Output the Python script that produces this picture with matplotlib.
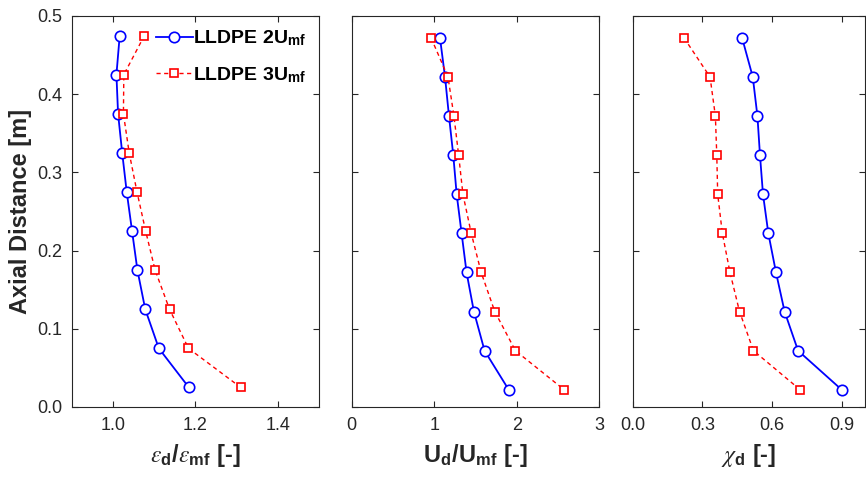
import numpy as np
import matplotlib
matplotlib.use('Agg')
import matplotlib.pyplot as plt

plt.rcParams['font.family'] = ['Liberation Sans', 'DejaVu Sans']
plt.rcParams['mathtext.fontset'] = 'custom'
plt.rcParams['mathtext.rm'] = 'Liberation Sans'
plt.rcParams['mathtext.bf'] = 'Liberation Sans:bold'
plt.rcParams['mathtext.it'] = 'STIXGeneral:italic'
plt.rcParams['mathtext.fallback'] = 'stix'

# axial positions
z1 = [0.475, 0.425, 0.375, 0.325, 0.275, 0.225, 0.175, 0.125, 0.075, 0.025]
z2 = [0.472, 0.422, 0.372, 0.322, 0.272, 0.222, 0.172, 0.122, 0.072, 0.022]

# eps_d / eps_mf
eps_2u = [1.016, 1.008, 1.012, 1.022, 1.033, 1.046, 1.059, 1.078, 1.111, 1.184]
eps_3u = [1.076, 1.026, 1.025, 1.039, 1.058, 1.079, 1.102, 1.137, 1.183, 1.310]

# U_d / U_mf
ud_2u = [1.070, 1.131, 1.179, 1.231, 1.272, 1.332, 1.392, 1.481, 1.610, 1.903]
ud_3u = [0.962, 1.167, 1.239, 1.296, 1.348, 1.449, 1.569, 1.734, 1.984, 2.575]

# chi_d
chi_2u = [0.471, 0.517, 0.537, 0.548, 0.561, 0.584, 0.617, 0.654, 0.712, 0.900]
chi_3u = [0.221, 0.333, 0.356, 0.362, 0.366, 0.386, 0.419, 0.460, 0.520, 0.721]

labels = [r'LLDPE 2U$_\mathbf{mf}$', r'LLDPE 3U$_\mathbf{mf}$']

tc = '#262626'
fig = plt.figure(figsize=(8.66, 4.86), dpi=100)
bot, h = 0.1626, 0.8045
ax1 = fig.add_axes([0.0831, bot, 0.2852, h])
ax2 = fig.add_axes([0.4061, bot, 0.2859, h])
ax3 = fig.add_axes([0.7306, bot, 0.2682, h])


def draw(ax, xb, xr, zb, zr):
	ax.plot(xb, zb, '-o', color='#0000ff', lw=1.3, ms=7.5, mfc='white', mew=1.2, label=labels[0])
	ax.plot(xr, zr, '--s', color='#ff0000', lw=1.0, ms=6, mfc='white', mew=1.2,
			dashes=(3, 2.5), label=labels[1])
	ax.set_ylim(0, 0.5)
	ax.set_yticks(np.arange(0, 0.51, 0.1))
	ax.tick_params(direction='in', top=True, right=True, length=4, labelsize=13,
				   colors=tc, pad=7)
	for s in ax.spines.values():
		s.set_color(tc)
		s.set_linewidth(0.8)


draw(ax1, eps_2u, eps_3u, z1, z1)
ax1.set_xlim(0.9, 1.5)
ax1.set_xticks([1.0, 1.2, 1.4])
ax1.set_xticklabels(['1.0', '1.2', '1.4'])
ax1.set_yticklabels(['0.0', '0.1', '0.2', '0.3', '0.4', '0.5'])
ax1.set_ylabel('Axial Distance [m]', fontsize=17, fontweight='bold', color=tc, labelpad=4)
ax1.set_xlabel(r'$\varepsilon_\mathbf{d}\mathbf{/}\varepsilon_\mathbf{mf}$ [-]', fontsize=17,
			   fontweight='bold', color=tc, labelpad=6)
leg = ax1.legend(loc='upper right', frameon=False, prop={'weight': 'bold', 'size': 14},
				 handlelength=1.9, handletextpad=0.0, labelspacing=0.85,
				 borderaxespad=0.25)
for t in leg.get_texts():
	t.set_color('black')

draw(ax2, ud_2u, ud_3u, z2, z2)
ax2.set_xlim(0, 3)
ax2.set_xticks([0, 1, 2, 3])
ax2.set_yticklabels([])
ax2.set_xlabel(r'U$_\mathbf{d}$/U$_\mathbf{mf}$ [-]', fontsize=17, fontweight='bold',
			   color=tc, labelpad=6)

draw(ax3, chi_2u, chi_3u, z2, z2)
ax3.set_xlim(0, 1.0)
ax3.set_xticks([0.0, 0.3, 0.6, 0.9])
ax3.set_xticklabels(['0.0', '0.3', '0.6', '0.9'])
ax3.set_yticklabels([])
ax3.set_xlabel(r'$\chi_\mathbf{d}$ [-]', fontsize=17, fontweight='bold', color=tc, labelpad=6)

plt.savefig('out.png', dpi=100)
